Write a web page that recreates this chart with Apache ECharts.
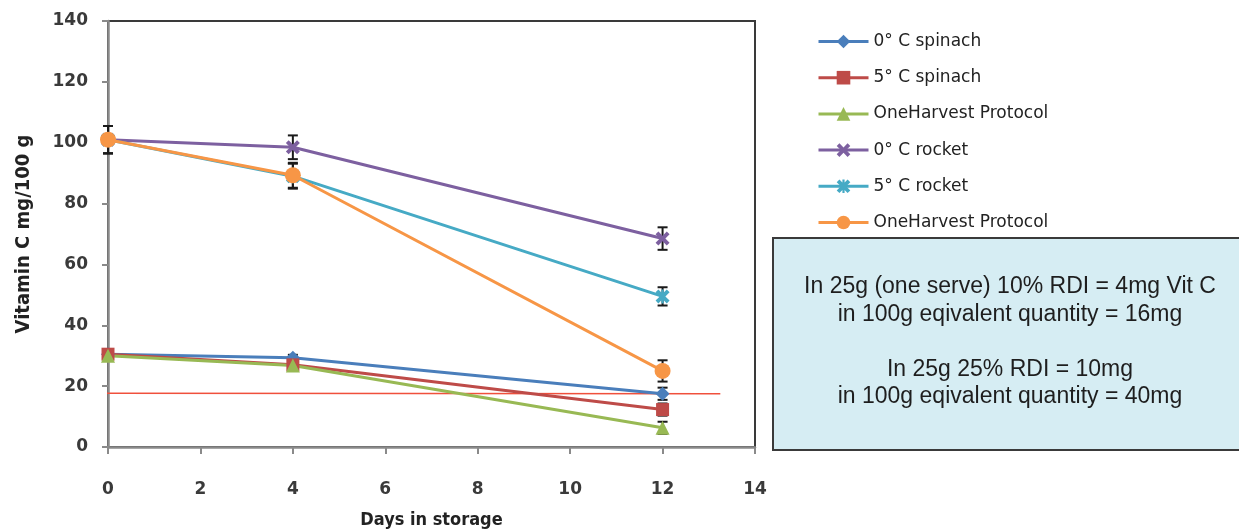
<!DOCTYPE html>
<html>
<head>
<meta charset="utf-8">
<script src="https://cdn.jsdelivr.net/npm/echarts@6/dist/echarts.min.js"></script>
<style>
html,body{margin:0;padding:0;background:#fff;}
#chart{width:1239px;height:531px;}
</style>
</head>
<body>
<div id="chart"></div>
<script>
// ---- data ----
const days = [0, 4, 12];
const seriesNames = ["0° C spinach", "5° C spinach", "OneHarvest Protocol", "0° C rocket", "5° C rocket", "OneHarvest Protocol "];
const spinach0 = [30.5, 29.3, 17.5];
const spinach5 = [30.5, 27.0, 12.3];
const ohpSpinach = [30.0, 26.8, 6.3];
const rocket0 = [101.0, 98.5, 68.5];
const rocket5 = [101.0, 89.0, 49.5];
const ohpRocket = [101.0, 89.3, 25.0];
const spinach0Err = [1.0, 1.0, 2.0];
const spinach5Err = [1.0, 1.0, 2.0];
const ohpSpinachErr = [1.0, 1.0, 2.0];
const rocket0Err = [4.5, 3.9, 3.7];
const rocket5Err = [4.5, 4.1, 3.0];
const ohpRocketErr = [4.5, 4.1, 3.5];
const refLine = [[-0.17, 17.7], [13.25, 17.5]];
const xTicks = [0, 2, 4, 6, 8, 10, 12, 14];
const yTicks = [0, 20, 40, 60, 80, 100, 120, 140];
const noteLines = ["In 25g (one serve) 10% RDI = 4mg Vit C", "in 100g eqivalent quantity = 16mg", "", "In 25g 25% RDI = 10mg", "in 100g eqivalent quantity = 40mg"];

// ---- styles ----
const colors = ["#4a7ebb", "#be4b48", "#98b954", "#7d60a0", "#46aac5", "#f79646"];
const xSym = "path://M0,2 L2,0 L5,3 L8,0 L10,2 L7,5 L10,8 L8,10 L5,7 L2,10 L0,8 L3,5 Z";
const starSym = "path://M0,2 L2,0 L4.2,2.2 L4.2,0 L5.8,0 L5.8,2.2 L8,0 L10,2 L7,5 L10,8 L8,10 L5.8,7.8 L5.8,10 L4.2,10 L4.2,7.8 L2,10 L0,8 L3,5 Z";
const symbols = ["diamond", "rect", "triangle", xSym, starSym, "circle"];
const symSizes = [14, 13, 14, 14, 14, 16];

const values = [spinach0, spinach5, ohpSpinach, rocket0, rocket5, ohpRocket];
const errs = [spinach0Err, spinach5Err, ohpSpinachErr, rocket0Err, rocket5Err, ohpRocketErr];

const series = [];
values.forEach((vals, i) => {
  series.push({
    type: 'custom',
    name: 'err' + i,
    z: 3,
    silent: true,
    encode: {x: 0, y: [1, 2]},
    data: days.map((d, k) => [d, vals[k] - errs[i][k], vals[k] + errs[i][k]]),
    renderItem: function (params, api) {
      const lo = api.coord([api.value(0), api.value(1)]);
      const hi = api.coord([api.value(0), api.value(2)]);
      const hw = 5;
      const st = {stroke: '#1a1a1a', lineWidth: 2};
      return {type: 'group', children: [
        {type: 'line', shape: {x1: lo[0], y1: lo[1], x2: hi[0], y2: hi[1]}, style: st},
        {type: 'line', shape: {x1: lo[0] - hw, y1: lo[1], x2: lo[0] + hw, y2: lo[1]}, style: st},
        {type: 'line', shape: {x1: hi[0] - hw, y1: hi[1], x2: hi[0] + hw, y2: hi[1]}, style: st}
      ]};
    }
  });
});
series.push({
  type: 'line', name: 'ref', data: refLine, clip: false, symbol: 'none', z: 4, silent: true,
  lineStyle: {color: '#f0503c', width: 1.5}
});
values.forEach((vals, i) => {
  series.push({
    type: 'line',
    name: seriesNames[i],
    data: days.map((d, k) => [d, vals[k]]),
    symbol: symbols[i],
    symbolSize: symSizes[i],
    z: 5,
    color: colors[i],
    lineStyle: {color: colors[i], width: 3},
    itemStyle: {color: colors[i]}
  });
});

const chart = echarts.init(document.getElementById('chart'));
chart.setOption({
  animation: false,
  backgroundColor: '#fff',
  grid: {left: 108, right: 484, top: 21, bottom: 84, outerBoundsMode: 'none', containLabel: false,
    show: true, borderColor: '#3a3a3a', borderWidth: 2, backgroundColor: 'transparent'},
  xAxis: {
    type: 'value', min: xTicks[0], max: xTicks[xTicks.length - 1], interval: 2,
    name: 'Days in storage', nameLocation: 'middle', nameGap: 64,
    nameTextStyle: {fontFamily: 'DejaVu Sans Condensed', fontWeight: 'bold', fontSize: 18, color: '#222'},
    axisLine: {show: true, lineStyle: {color: '#8a8a8a', width: 2.5}},
    axisTick: {show: true, length: 7, lineStyle: {color: '#8a8a8a', width: 2}},
    axisLabel: {margin: 34, fontFamily: 'DejaVu Sans', fontWeight: 'bold', fontSize: 17, color: '#3a3a3a'},
    splitLine: {show: false}
  },
  yAxis: {
    type: 'value', min: yTicks[0], max: yTicks[yTicks.length - 1], interval: 20,
    name: 'Vitamin C mg/100 g', nameLocation: 'middle', nameGap: 74,
    nameTextStyle: {fontFamily: 'DejaVu Sans Condensed', fontWeight: 'bold', fontSize: 20, color: '#222'},
    axisLine: {show: true, lineStyle: {color: '#8a8a8a', width: 2.5}},
    axisTick: {show: true, length: 6, lineStyle: {color: '#8a8a8a', width: 2}},
    axisLabel: {margin: 20, fontFamily: 'DejaVu Sans', fontWeight: 'bold', fontSize: 17, color: '#3a3a3a'},
    splitLine: {show: false}
  },
  legend: {
    orient: 'vertical', left: 817, top: 33, padding: 0,
    data: seriesNames,
    itemWidth: 50, itemHeight: 17, itemGap: 19.2,
    formatter: n => n.trim(),
    lineStyle: {width: 3},
    textStyle: {fontFamily: 'DejaVu Sans', fontSize: 17, color: '#222', lineHeight: 17}
  },
  graphic: [
    {type: 'rect', left: 772, top: 237, z: 10,
     shape: {width: 470, height: 212},
     style: {fill: '#d6edf3', stroke: '#3a3a3a', lineWidth: 2}},
    {type: 'text', z: 11, x: 1010, y: 273,
     style: {text: noteLines.join('\n'), fontFamily: 'Liberation Sans', fontSize: 23, lineHeight: 27.5,
       fill: '#1e1e1e', align: 'center', verticalAlign: 'top'}}
  ],
  series: series
});
</script>
</body>
</html>
